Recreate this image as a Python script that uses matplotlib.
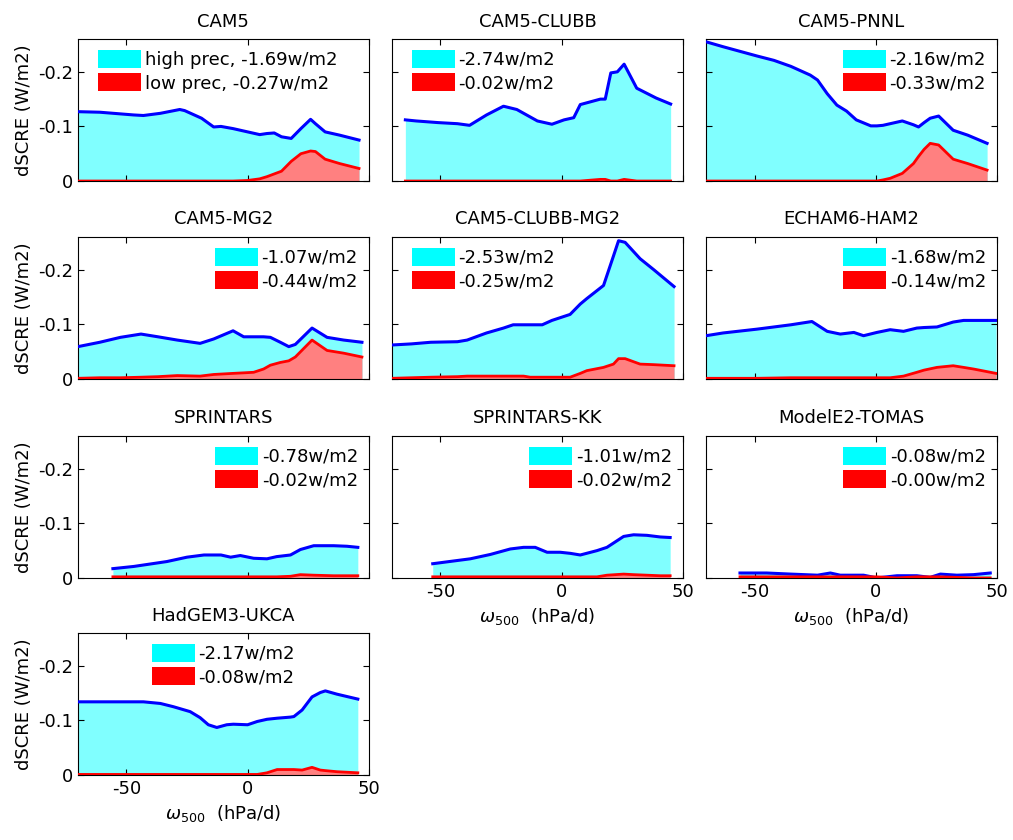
import matplotlib
matplotlib.use("Agg")
import matplotlib.pyplot as plt
from matplotlib.patches import Patch

plt.rcParams['font.family'] = ['DejaVu Sans']
plt.rcParams['axes.unicode_minus'] = False
plt.rcParams['mathtext.fontset'] = 'dejavusans'

models = ["CAM5", "CAM5-CLUBB", "CAM5-PNNL", "CAM5-MG2", "CAM5-CLUBB-MG2",
          "ECHAM6-HAM2", "SPRINTARS", "SPRINTARS-KK", "ModelE2-TOMAS", "HadGEM3-UKCA"]
high_labels = ["high prec, -1.69w/m2", "-2.74w/m2", "-2.16w/m2", "-1.07w/m2", "-2.53w/m2",
               "-1.68w/m2", "-0.78w/m2", "-1.01w/m2", "-0.08w/m2", "-2.17w/m2"]
low_labels = ["low prec, -0.27w/m2", "-0.02w/m2", "-0.33w/m2", "-0.44w/m2", "-0.25w/m2",
              "-0.14w/m2", "-0.02w/m2", "-0.02w/m2", "-0.00w/m2", "-0.08w/m2"]

x_cam5 = [-70, -61, -47, -43, -36, -28, -26, -19, -14, -11, -6, 0, 5, 8, 11, 14, 18, 22, 26, 28, 32, 38, 46]
hi_cam5 = [-0.127, -0.126, -0.121, -0.120, -0.124, -0.131, -0.129, -0.115, -0.099, -0.100, -0.096, -0.090,
           -0.085, -0.087, -0.088, -0.081, -0.078, -0.096, -0.113, -0.105, -0.090, -0.084, -0.075]
lo_cam5 = [0, 0, 0, 0, 0, 0, 0, 0, 0, 0, 0, -0.001, -0.004, -0.008, -0.013, -0.018, -0.036, -0.050,
           -0.055, -0.054, -0.040, -0.032, -0.023]

x_clubb = [-64.5, -60, -51, -43, -38, -31, -24, -18.5, -10, -4, 1, 5, 7.7, 16, 18, 20.3, 23, 25.8, 31, 39, 45]
hi_clubb = [-0.112, -0.110, -0.107, -0.105, -0.102, -0.121, -0.137, -0.131, -0.110, -0.104, -0.112, -0.116,
            -0.140, -0.150, -0.150, -0.198, -0.200, -0.214, -0.170, -0.152, -0.141]
lo_clubb = [0, 0, 0, 0, 0, 0, 0, 0, 0, 0, 0, 0, 0, -0.003, -0.003, 0, 0, -0.003, 0, 0, 0]

x_pnnl = [-70, -63, -49, -42, -35, -27, -24, -20, -16, -12, -8, -2, 0.5, 3, 6, 11, 15.6, 17.7, 20, 22.5, 26, 32, 38, 46]
hi_pnnl = [-0.255, -0.246, -0.229, -0.221, -0.210, -0.194, -0.185, -0.160, -0.139, -0.128, -0.112, -0.101,
           -0.101, -0.102, -0.105, -0.110, -0.103, -0.099, -0.107, -0.115, -0.119, -0.093, -0.084, -0.069]
lo_pnnl = [0, 0, 0, 0, 0, 0, 0, 0, 0, 0, 0, 0, 0, -0.002, -0.005, -0.014, -0.032, -0.045, -0.058, -0.069,
           -0.066, -0.040, -0.032, -0.020]

x_mg2 = [-70, -61, -52.5, -44, -37, -29, -19.6, -14, -6, -1.6, 2.5, 6.6, 9.4, 13.5, 17, 19.7, 26.6, 32.8, 39.7, 47.2]
hi_mg2 = [-0.059, -0.067, -0.076, -0.082, -0.077, -0.071, -0.065, -0.073, -0.088, -0.077, -0.077, -0.077,
          -0.076, -0.067, -0.059, -0.063, -0.093, -0.076, -0.071, -0.067]
lo_mg2 = [-0.001, -0.002, -0.002, -0.003, -0.004, -0.006, -0.005, -0.008, -0.010, -0.011, -0.012, -0.018,
          -0.025, -0.030, -0.033, -0.040, -0.071, -0.052, -0.047, -0.040]

x_cmg2 = [-70, -62, -54, -43, -39, -31, -24, -20, -15.7, -13, -8, -4, 3.5, 7.7, 10.4, 17.3, 21.4, 23.5, 26.2, 32.4, 38, 46.4]
hi_cmg2 = [-0.062, -0.064, -0.067, -0.068, -0.071, -0.084, -0.093, -0.099, -0.099, -0.099, -0.099, -0.107,
           -0.118, -0.137, -0.147, -0.171, -0.225, -0.253, -0.250, -0.220, -0.200, -0.169]
lo_cmg2 = [-0.001, -0.002, -0.003, -0.004, -0.005, -0.005, -0.005, -0.005, -0.005, -0.003, -0.003, -0.003,
           -0.003, -0.010, -0.015, -0.021, -0.027, -0.037, -0.037, -0.027, -0.026, -0.024]

x_echam = [-70, -63, -49, -35, -26.3, -20, -14.6, -9, -5, 0.5, 6, 11.5, 17, 20, 25.3, 32, 36.3, 40.4, 49.7]
hi_echam = [-0.079, -0.084, -0.091, -0.099, -0.105, -0.087, -0.082, -0.085, -0.079, -0.085, -0.090, -0.087,
            -0.093, -0.094, -0.095, -0.104, -0.107, -0.107, -0.107]
lo_echam = [-0.001, -0.001, -0.001, -0.002, -0.002, -0.002, -0.002, -0.002, -0.002, -0.002, -0.002, -0.005,
            -0.012, -0.016, -0.021, -0.024, -0.021, -0.018, -0.010]

x_spr = [-55.6, -47, -33.3, -25, -18, -11, -7, -3, 2.5, 8, 12, 17.7, 21.8, 27.3, 35.5, 41, 45.5]
hi_spr = [-0.017, -0.021, -0.030, -0.038, -0.042, -0.042, -0.038, -0.041, -0.036, -0.035, -0.039, -0.042,
          -0.052, -0.059, -0.059, -0.058, -0.056]
lo_spr = [-0.002, -0.002, -0.002, -0.002, -0.002, -0.002, -0.002, -0.002, -0.002, -0.002, -0.002, -0.003,
          -0.006, -0.005, -0.004, -0.004, -0.004]

x_sprkk = [-53.2, -44.6, -37.7, -29.4, -21.2, -15.7, -10.9, -6, -0.6, 3.6, 7.7, 14.6, 18.7, 25.6, 29.7, 35.2, 40.7, 44.8]
hi_sprkk = [-0.026, -0.031, -0.035, -0.043, -0.053, -0.056, -0.056, -0.047, -0.047, -0.045, -0.042, -0.050,
            -0.056, -0.076, -0.079, -0.078, -0.075, -0.074]
lo_sprkk = [-0.002, -0.002, -0.002, -0.002, -0.002, -0.002, -0.002, -0.002, -0.002, -0.002, -0.002, -0.002,
            -0.005, -0.007, -0.006, -0.005, -0.004, -0.004]

x_tomas = [-56, -45, -35, -24, -18.7, -14.6, -5, 0.5, 8.8, 17, 22.5, 26.7, 33.5, 40.4, 47.3]
hi_tomas = [-0.009, -0.009, -0.007, -0.005, -0.009, -0.005, -0.005, 0.0, -0.004, -0.004, -0.001, -0.007,
            -0.005, -0.006, -0.009]
lo_tomas = [-0.002, -0.002, -0.002, -0.002, -0.002, -0.002, -0.002, -0.002, 0, -0.002, -0.002, -0.002,
            -0.001, 0, 0]

x_had = [-70, -61, -43, -36, -30.6, -23.7, -19.6, -16.2, -12.7, -8.6, -5.9, 0, 4, 8, 12.2, 17.7, 19.1, 22.5,
         26.6, 30, 32.1, 36.9, 45.5]
hi_had = [-0.134, -0.134, -0.134, -0.131, -0.125, -0.116, -0.105, -0.092, -0.087, -0.092, -0.093, -0.092,
          -0.098, -0.102, -0.104, -0.106, -0.107, -0.119, -0.143, -0.151, -0.154, -0.148, -0.139]
lo_had = [-0.001, -0.001, -0.001, -0.001, -0.001, -0.001, -0.001, -0.001, -0.001, -0.001, -0.001, -0.001,
          -0.001, -0.004, -0.010, -0.010, -0.010, -0.009, -0.014, -0.009, -0.008, -0.006, -0.004]

xs = [x_cam5, x_clubb, x_pnnl, x_mg2, x_cmg2, x_echam, x_spr, x_sprkk, x_tomas, x_had]
his = [hi_cam5, hi_clubb, hi_pnnl, hi_mg2, hi_cmg2, hi_echam, hi_spr, hi_sprkk, hi_tomas, hi_had]
los = [lo_cam5, lo_clubb, lo_pnnl, lo_mg2, lo_cmg2, lo_echam, lo_spr, lo_sprkk, lo_tomas, lo_had]
legend_locs = ["upper left", "upper left", "upper right", "upper right", "upper left",
               "upper right", "upper right", "upper right", "upper right", "upper center"]

x_ticks = [-50, 0, 50]
y_ticks = [0, -0.1, -0.2]
y_ticklabels = ["0", "-0.1", "-0.2"]

fig = plt.figure(figsize=(10.13, 8.4), dpi=100)
col_left = [0.077, 0.387, 0.697]
row_bottom = [0.7845, 0.549, 0.312, 0.0774]
w, h = 0.287, 0.169

anchors = {"upper left": (0.03, 1.0), "upper right": (1.0, 1.0), "upper center": (0.5, 1.0)}

FS = 13
for i, name in enumerate(models):
    r, c = divmod(i, 3)
    ax = fig.add_axes([col_left[c], row_bottom[r], w, h])
    x, hi, lo = xs[i], his[i], los[i]
    ax.fill_between(x, 0, hi, color='#80FFFF', lw=0, zorder=1)
    ax.fill_between(x, 0, lo, color='#FF8080', lw=0, zorder=2)
    ax.plot(x, hi, color='#0000FF', lw=2.2, zorder=3)
    ax.plot(x, lo, color='#FF0000', lw=2.0, zorder=4)
    ax.set_xlim(-70, 50)
    ax.set_ylim(0, -0.26)
    ax.set_xticks(x_ticks)
    ax.set_yticks(y_ticks)
    ax.tick_params(direction='in', top=True, right=True, length=4, width=0.8, labelsize=FS)
    for s in ax.spines.values():
        s.set_linewidth(0.8)
    if c == 0:
        ax.set_yticklabels(y_ticklabels)
        ax.set_ylabel("dSCRE (W/m2)", fontsize=FS)
    else:
        ax.set_yticklabels([])
    if name in ("SPRINTARS-KK", "ModelE2-TOMAS", "HadGEM3-UKCA"):
        ax.set_xticklabels([str(t) for t in x_ticks])
        ax.set_xlabel(r"$\omega_{500}$  (hPa/d)", fontsize=FS)
    else:
        ax.set_xticklabels([])
    ax.set_title(name, fontsize=FS, pad=9)
    handles = [Patch(facecolor='#00FFFF', edgecolor='none'), Patch(facecolor='#FF0000', edgecolor='none')]
    loc = legend_locs[i]
    ax.legend(handles, [high_labels[i], low_labels[i]], loc=loc, bbox_to_anchor=anchors[loc],
              frameon=False, fontsize=FS, handlelength=2.4, handleheight=1.15, labelspacing=0.25,
              handletextpad=0.2, borderaxespad=0.3, borderpad=0.3)

fig.savefig("out.png", dpi=100)
